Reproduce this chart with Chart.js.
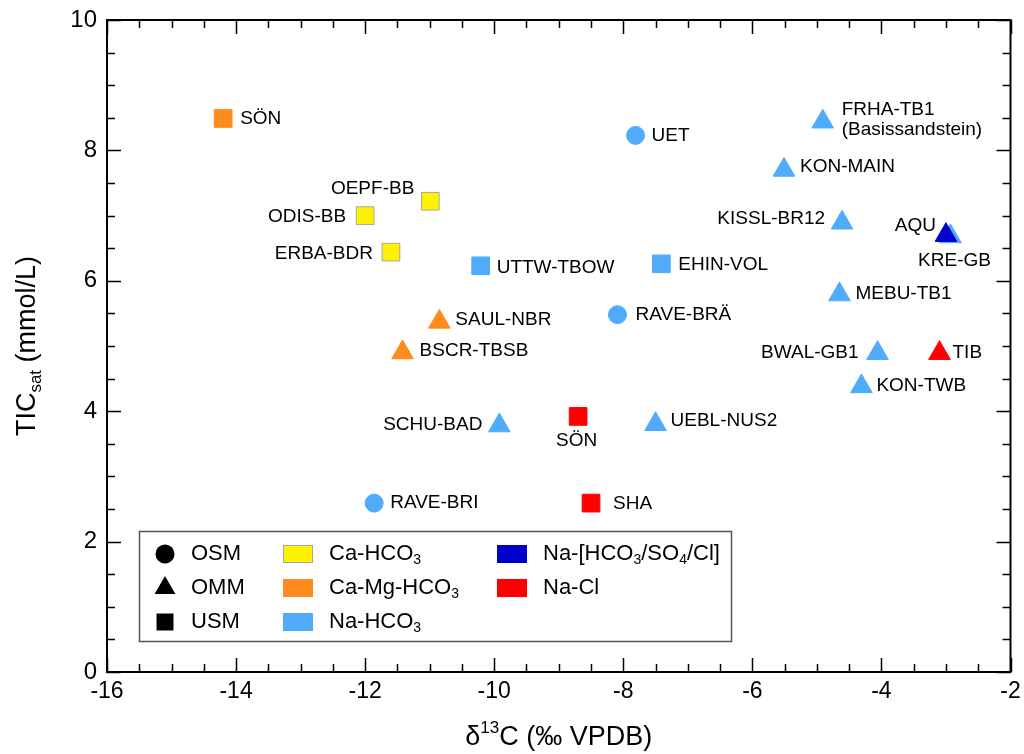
<!DOCTYPE html>
<html>
<head>
<meta charset="utf-8">
<script src="https://cdn.jsdelivr.net/npm/chart.js@4/dist/chart.umd.min.js"></script>
<style>
  html, body { margin: 0; padding: 0; background: #fff; }
  #wrap { width: 1024px; height: 754px; }
</style>
</head>
<body>
<div id="wrap"><canvas id="c" width="1024" height="754"></canvas></div>
<script>
// Sample sites: δ13C of DIC (‰ VPDB) against saturated total inorganic carbon (mmol/L)
const siteNames = [
  'SÖN', 'UET', 'FRHA-TB1\n(Basissandstein)', 'KON-MAIN', 'OEPF-BB', 'ODIS-BB',
  'KISSL-BR12', 'KRE-GB', 'AQU', 'ERBA-BDR', 'UTTW-TBOW', 'EHIN-VOL',
  'MEBU-TB1', 'RAVE-BRÄ', 'SAUL-NBR', 'BSCR-TBSB', 'BWAL-GB1', 'TIB',
  'KON-TWB', 'SCHU-BAD', 'SÖN', 'UEBL-NUS2', 'RAVE-BRI', 'SHA'
];
const delta13C = [
  -14.20, -7.81, -4.91, -5.51, -10.99, -12.00,
  -4.61, -2.93, -3.00, -11.60, -10.21, -7.41,
  -4.65, -8.09, -10.85, -11.42, -4.06, -3.10,
  -4.31, -9.92, -8.70, -7.50, -11.86, -8.50
];
const ticSat = [
  8.49, 8.23, 8.44, 7.70, 7.22, 7.00,
  6.89, 6.68, 6.70, 6.44, 6.23, 6.26,
  5.79, 5.48, 5.37, 4.90, 4.89, 4.89,
  4.38, 3.78, 3.92, 3.80, 2.59, 2.59
];
const aquifer = [
  'USM', 'OSM', 'OMM', 'OMM', 'USM', 'USM',
  'OMM', 'OMM', 'OMM', 'USM', 'USM', 'USM',
  'OMM', 'OSM', 'OMM', 'OMM', 'OMM', 'OMM',
  'OMM', 'OMM', 'USM', 'OMM', 'OSM', 'USM'
];
const waterType = [
  'Ca-Mg-HCO3', 'Na-HCO3', 'Na-HCO3', 'Na-HCO3', 'Ca-HCO3', 'Ca-HCO3',
  'Na-HCO3', 'Na-HCO3', 'Na-mix', 'Ca-HCO3', 'Na-HCO3', 'Na-HCO3',
  'Na-HCO3', 'Na-HCO3', 'Ca-Mg-HCO3', 'Ca-Mg-HCO3', 'Na-HCO3', 'Na-Cl',
  'Na-HCO3', 'Na-HCO3', 'Na-Cl', 'Na-HCO3', 'Na-HCO3', 'Na-Cl'
];
const xTicks = [-16, -14, -12, -10, -8, -6, -4, -2];
const yTicks = [0, 2, 4, 6, 8, 10];

// ---- styling ----
const FONT = '"Liberation Sans", Arial, Helvetica, sans-serif';
const typeColor = {
  'Ca-HCO3': '#fff200',
  'Ca-Mg-HCO3': '#ff8a1e',
  'Na-HCO3': '#50acfa',
  'Na-mix': '#0000cc',
  'Na-Cl': '#ff0000'
};
const typeBorder = { 'Ca-HCO3': '#a6a6a6' };
const aquiferStyle = { OSM: 'circle', OMM: 'triangle', USM: 'rect' };
const styleRadius = { circle: 9, triangle: 12.5, rect: 12.5 };

// label placement next to each marker: [align, dx, dy]
const labelPlacement = [
  ['left', 17, 0], ['left', 16, 0], ['left', 19, -12], ['left', 16, -3], ['right', -16, -12], ['right', -19, 1],
  ['right', -17, -4], ['center', 4, 24], ['right', -10, -9], ['right', -18, 2], ['left', 16, 2], ['left', 17, 1],
  ['left', 16, -1], ['left', 18, 0], ['left', 16, -2], ['left', 17, -2], ['right', -19, 0], ['left', 13, 0],
  ['left', 15, -1], ['right', -17, -1], ['center', -1.5, 24], ['left', 15, -3], ['left', 16, 0], ['left', 22, 1]
];

const points = delta13C.map((x, i) => ({ x, y: ticSat[i] }));
const pStyles = aquifer.map(a => aquiferStyle[a]);

// draws a run of [text, 'sub'|'sup'|''] pieces starting at x (baseline middle)
function richText(ctx, parts, x, y, size) {
  let cx = x;
  for (const [t, mode] of parts) {
    if (mode === 'sub' || mode === 'sup') {
      ctx.font = `${Math.round(size * 0.62)}px ${FONT}`;
      ctx.fillText(t, cx, y + (mode === 'sub' ? size * 0.3 : -size * 0.35));
    } else {
      ctx.font = `${size}px ${FONT}`;
      ctx.fillText(t, cx, y);
    }
    cx += ctx.measureText(t).width;
  }
  return cx - x;
}
function richWidth(ctx, parts, size) {
  let w = 0;
  for (const [t, mode] of parts) {
    ctx.font = (mode ? `${Math.round(size * 0.62)}px ` : `${size}px `) + FONT;
    w += ctx.measureText(t).width;
  }
  return w;
}

// Box frame with inward major/minor tick marks on all four sides
const framePlugin = {
  id: 'frame',
  afterDraw(chart) {
    const { ctx, chartArea: a, scales: { x, y } } = chart;
    ctx.save();
    ctx.strokeStyle = '#000';
    ctx.lineWidth = 2;
    ctx.lineCap = 'butt';
    ctx.strokeRect(a.left, a.top, a.right - a.left, a.bottom - a.top);
    ctx.lineWidth = 1.5;
    ctx.beginPath();
    for (let v = x.min; v <= x.max + 1e-9; v += 0.5) {
      const px = Math.round(x.getPixelForValue(v)) + 0.5;
      const len = Math.abs(v % 2) < 1e-9 ? 14 : 8;
      ctx.moveTo(px, a.bottom); ctx.lineTo(px, a.bottom - len);
      ctx.moveTo(px, a.top); ctx.lineTo(px, a.top + len);
    }
    for (let v = y.min; v <= y.max + 1e-9; v += 0.5) {
      const py = Math.round(y.getPixelForValue(v)) + 0.5;
      const len = Math.abs(v % 2) < 1e-9 ? 14 : 8;
      ctx.moveTo(a.left, py); ctx.lineTo(a.left + len, py);
      ctx.moveTo(a.right, py); ctx.lineTo(a.right - len, py);
    }
    ctx.stroke();

    // axis titles
    ctx.fillStyle = '#000';
    ctx.textBaseline = 'middle';
    ctx.textAlign = 'left';
    const xt = [['δ', ''], ['13', 'sup'], ['C (‰ VPDB)', '']];
    const xw = richWidth(ctx, xt, 27);
    richText(ctx, xt, (a.left + a.right) / 2 - xw / 2, 738, 27);

    const yt = [['TIC', ''], ['sat', 'sub'], [' (mmol/L)', '']];
    const yw = richWidth(ctx, yt, 27);
    ctx.translate(28, (a.top + a.bottom) / 2);
    ctx.rotate(-Math.PI / 2);
    richText(ctx, yt, -yw / 2, 0, 27);
    ctx.restore();
  }
};

// Site name beside every marker
const labelPlugin = {
  id: 'siteLabels',
  afterDatasetsDraw(chart) {
    const { ctx } = chart;
    const meta = chart.getDatasetMeta(0);
    ctx.save();
    ctx.fillStyle = '#000';
    ctx.font = `19px ${FONT}`;
    ctx.textBaseline = 'middle';
    meta.data.forEach((el, i) => {
      const [align, dx, dy] = labelPlacement[i];
      ctx.textAlign = align;
      siteNames[i].split('\n').forEach((line, k) => {
        ctx.fillText(line, el.x + dx, el.y + dy + k * 20);
      });
    });
    ctx.restore();
  }
};

// Legend box: marker shape = aquifer unit, colour = water type
const legendPlugin = {
  id: 'keyBox',
  afterDraw(chart) {
    const { ctx } = chart;
    const FS = 22;
    ctx.save();
    ctx.fillStyle = '#fff';
    ctx.fillRect(139, 531, 592, 110);
    ctx.strokeStyle = '#555';
    ctx.lineWidth = 1.5;
    ctx.strokeRect(139.5, 531.5, 592, 110);
    const rows = [554, 588, 622];
    ctx.textBaseline = 'middle';
    ctx.textAlign = 'left';
    const shapes = ['OSM', 'OMM', 'USM'];
    const legendRadius = { circle: 9.5, triangle: 12, rect: 12 };
    shapes.forEach((s, i) => {
      const st = aquiferStyle[s];
      ctx.fillStyle = '#000';
      ctx.strokeStyle = '#000';
      Chart.helpers.drawPoint(ctx, { pointStyle: st, radius: legendRadius[st], borderWidth: 0 }, 165, rows[i]);
      richText(ctx, [[s, '']], 191, rows[i], FS);
    });
    const swatches = [
      ['Ca-HCO3', [['Ca-HCO', ''], ['3', 'sub']], 283, rows[0]],
      ['Ca-Mg-HCO3', [['Ca-Mg-HCO', ''], ['3', 'sub']], 283, rows[1]],
      ['Na-HCO3', [['Na-HCO', ''], ['3', 'sub']], 283, rows[2]],
      ['Na-mix', [['Na-[HCO', ''], ['3', 'sub'], ['/SO', ''], ['4', 'sub'], ['/Cl]', '']], 497, rows[0]],
      ['Na-Cl', [['Na-Cl', '']], 497, rows[1]]
    ];
    swatches.forEach(([key, parts, sx, sy]) => {
      ctx.fillStyle = typeColor[key];
      ctx.fillRect(sx, sy - 9, 30, 18);
      if (typeBorder[key]) {
        ctx.strokeStyle = typeBorder[key];
        ctx.lineWidth = 1;
        ctx.strokeRect(sx + 0.5, sy - 8.5, 29, 17);
      }
      ctx.fillStyle = '#000';
      richText(ctx, parts, sx + 46, sy, FS);
    });
    ctx.restore();
  }
};

new Chart(document.getElementById('c'), {
  type: 'scatter',
  data: {
    datasets: [{
      data: points,
      pointStyle: pStyles,
      pointRadius: pStyles.map(s => styleRadius[s]),
      pointHoverRadius: pStyles.map(s => styleRadius[s]),
      backgroundColor: waterType.map(t => typeColor[t]),
      borderColor: waterType.map(t => typeBorder[t] || typeColor[t]),
      borderWidth: 1,
      showLine: false
    }]
  },
  options: {
    responsive: false,
    animation: false,
    events: [],
    layout: { padding: { top: 20, right: 10, left: 0, bottom: 0 } },
    plugins: { legend: { display: false }, tooltip: { enabled: false } },
    scales: {
      x: {
        type: 'linear', min: -16, max: -2,
        afterBuildTicks: s => { s.ticks = xTicks.map(v => ({ value: v })); },
        afterFit: s => { s.height = 82; s.paddingLeft = 0; s.paddingRight = 0; },
        ticks: { color: '#000', font: { family: FONT, size: 23 }, padding: 6, maxRotation: 0, autoSkip: false },
        grid: { display: false, drawTicks: false },
        border: { display: false }
      },
      y: {
        type: 'linear', min: 0, max: 10,
        afterBuildTicks: s => { s.ticks = yTicks.map(v => ({ value: v })); },
        afterFit: s => { s.width = 107; s.paddingTop = 0; s.paddingBottom = 0; },
        ticks: { color: '#000', font: { family: FONT, size: 24 }, padding: 10 },
        grid: { display: false, drawTicks: false },
        border: { display: false }
      }
    }
  },
  plugins: [framePlugin, labelPlugin, legendPlugin]
});
</script>
</body>
</html>
